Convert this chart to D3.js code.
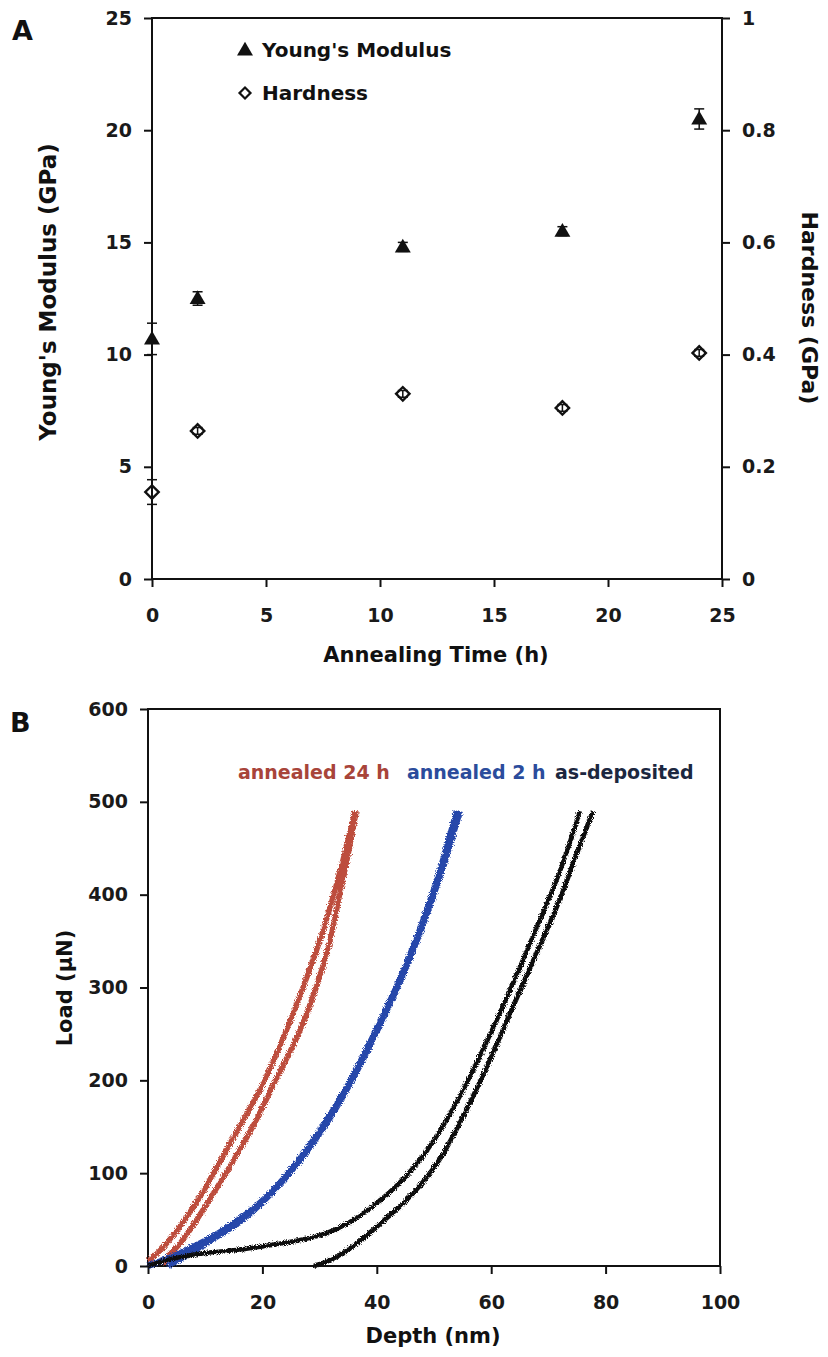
<!DOCTYPE html>
<html>
<head>
<meta charset="utf-8">
<script src="https://cdn.jsdelivr.net/npm/d3@7"></script>
<style>
  body { margin: 0; background: #fff; }
  text { font-family: "DejaVu Sans", "Liberation Sans", sans-serif; font-weight: bold; }
</style>
</head>
<body>
<div id="root"></div>
<script>
// Panel A: annealing time vs. mechanical properties
const hours = [0, 2, 11, 18, 24]
const modulus = [10.7, 12.5, 14.8, 15.5, 20.5]
const modulusErr = [0.7, 0.3, 0.2, 0.2, 0.45]
const hardness = [0.155, 0.264, 0.33, 0.305, 0.403]
const hardnessErr = [0.022, 0.006, 0.006, 0.006, 0.006]

const xTicksA = [0, 5, 10, 15, 20, 25]
const yTicksA = [0, 5, 10, 15, 20, 25]
const hTicksA = [0, 0.2, 0.4, 0.6, 0.8, 1]

// Panel B: load-depth curves, [depth nm, load uN]
const red24Load = [[0, 5], [2, 16], [4, 30], [6, 46], [8, 64], [10, 84], [12, 106], [14, 128], [16, 150], [18, 172], [20, 195], [22, 222], [24, 251], [26, 282], [28, 315], [30, 350], [32, 390], [34, 435], [36.2, 490]]
const red24Unload = [[36.4, 490], [35.2, 450], [33.5, 400], [31.8, 350], [29.4, 300], [26.3, 250], [22.3, 200], [18.3, 150], [14.3, 107], [10.7, 71], [8, 45], [5.7, 25], [3.5, 10], [2.6, 2]]
const blue2Load = [[0, 0], [5, 12], [10, 27], [15, 46], [20, 70], [25, 103], [30, 145], [35, 195], [40, 255], [45, 322], [50, 405], [54, 490]]
const blue2Unload = [[54.5, 490], [51, 420], [46.3, 340], [41.3, 270], [36.3, 208], [31.3, 155], [26.3, 112], [21.3, 77], [16.5, 50], [11.5, 30], [7, 13], [4.5, 4], [3.5, 0]]
const asDepLoad = [[0, 0], [3, 6], [6, 10], [10, 14], [15, 17], [20, 21], [25, 26], [30, 33], [33, 40], [36, 50], [39, 63], [42, 78], [45, 96], [48, 118], [51, 145], [54, 177], [57, 213], [60, 252], [63, 293], [66, 336], [69, 380], [72, 425], [75.5, 490]]
const asDepUnload = [[77.8, 490], [75, 445], [72, 395], [69, 352], [66, 310], [63, 268], [60, 225], [57, 185], [54, 148], [51, 115], [48, 90], [45, 70], [42, 53], [39, 37], [36, 22], [33, 10], [31, 4], [29, 0]]

const xTicksB = [0, 20, 40, 60, 80, 100]
const yTicksB = [0, 100, 200, 300, 400, 500, 600]

const legendB = [
  { label: 'annealed 24 h', color: '#a8443a', x: 238 },
  { label: 'annealed 2 h', color: '#2b4c9c', x: 407 },
  { label: 'as-deposited', color: '#1c2740', x: 555 }
]

const W = 828, H = 1357

const svg = d3.select('#root').append('svg')
  .attr('width', W)
  .attr('height', H)

// jagged look of the measured traces
const defs = svg.append('defs')
const filt = defs.append('filter').attr('id', 'jitter')
  .attr('x', '-5%').attr('y', '-5%').attr('width', '110%').attr('height', '110%')
filt.append('feTurbulence').attr('type', 'fractalNoise')
  .attr('baseFrequency', '1.1').attr('numOctaves', 2).attr('seed', 3).attr('result', 'noise')
filt.append('feDisplacementMap').attr('in', 'SourceGraphic').attr('in2', 'noise')
  .attr('scale', 5).attr('xChannelSelector', 'R').attr('yChannelSelector', 'G')

// ---------- Panel A ----------
const xA = d3.scaleLinear().domain([0, 25]).range([152, 722])
const yA = d3.scaleLinear().domain([0, 25]).range([579, 18])
const yH = d3.scaleLinear().domain([0, 1]).range([579, 18])

function styleAxis(g) {
  g.select('.domain').remove()
  g.selectAll('.tick line').attr('stroke', '#111').attr('stroke-width', 2)
  g.selectAll('.tick text').attr('fill', '#1a1a1a').style('font-size', '19px')
}

svg.append('g')
  .attr('transform', `translate(0,${yA(0)})`)
  .call(d3.axisBottom(xA).tickValues(xTicksA).tickSize(8).tickPadding(22))
  .call(styleAxis)

svg.append('g')
  .attr('transform', `translate(${xA(0)},0)`)
  .call(d3.axisLeft(yA).tickValues(yTicksA).tickSize(8).tickPadding(12))
  .call(styleAxis)

svg.append('g')
  .attr('transform', `translate(${xA(25)},0)`)
  .call(d3.axisRight(yH).tickValues(hTicksA).tickSize(8).tickPadding(12).tickFormat(d3.format('')))
  .call(styleAxis)

svg.append('rect')
  .attr('x', xA(0)).attr('y', yA(25))
  .attr('width', xA(25) - xA(0)).attr('height', yA(0) - yA(25))
  .attr('fill', 'none').attr('stroke', '#111').attr('stroke-width', 2)

// error bars
const ptsA = hours.map((t, i) => ({ t, m: modulus[i], me: modulusErr[i], h: hardness[i], he: hardnessErr[i] }))

function errBar(g, x, y0, y1) {
  g.append('line').attr('x1', x).attr('x2', x).attr('y1', y0).attr('y2', y1)
    .attr('stroke', '#111').attr('stroke-width', 1.5)
  ;[y0, y1].forEach(y => g.append('line').attr('x1', x - 5).attr('x2', x + 5).attr('y1', y).attr('y2', y)
    .attr('stroke', '#111').attr('stroke-width', 1.5))
}

const gA = svg.append('g')
ptsA.forEach(d => {
  errBar(gA, xA(d.t), yA(d.m - d.me), yA(d.m + d.me))
  errBar(gA, xA(d.t), yH(d.h - d.he), yH(d.h + d.he))
})

const tri = d3.symbol(d3.symbolTriangle, 110)
const sq = d3.symbol(d3.symbolSquare, 90)

gA.selectAll('.tri').data(ptsA).enter().append('path')
  .attr('d', tri)
  .attr('transform', d => `translate(${xA(d.t)},${yA(d.m) + 1})`)
  .attr('fill', '#111')

gA.selectAll('.dia').data(ptsA).enter().append('path')
  .attr('d', sq)
  .attr('transform', d => `translate(${xA(d.t)},${yH(d.h)}) rotate(45)`)
  .attr('fill', 'none').attr('stroke', '#111').attr('stroke-width', 2.4)

// legend A
svg.append('path').attr('d', tri).attr('transform', 'translate(245,51)').attr('fill', '#111')
svg.append('text').attr('x', 262).attr('y', 57).style('font-size', '20px').attr('fill', '#111').text("Young's Modulus")
svg.append('path').attr('d', d3.symbol(d3.symbolSquare, 60)).attr('transform', 'translate(245,93) rotate(45)')
  .attr('fill', 'none').attr('stroke', '#111').attr('stroke-width', 2.2)
svg.append('text').attr('x', 262).attr('y', 100).style('font-size', '20px').attr('fill', '#111').text('Hardness')

// titles A
svg.append('text').attr('x', 12).attr('y', 40).style('font-size', '27px').attr('fill', '#111').text('A')
svg.append('text').attr('text-anchor', 'middle').attr('transform', 'translate(56,292) rotate(-90)')
  .style('font-size', '23px').attr('fill', '#111').text("Young's Modulus (GPa)")
svg.append('text').attr('text-anchor', 'middle').attr('transform', 'translate(802,308) rotate(90)')
  .style('font-size', '22px').attr('fill', '#111').text('Hardness (GPa)')
svg.append('text').attr('text-anchor', 'middle').attr('x', 436).attr('y', 662)
  .style('font-size', '21px').attr('fill', '#111').text('Annealing Time (h)')

// ---------- Panel B ----------
const xB = d3.scaleLinear().domain([0, 100]).range([148, 720])
const yB = d3.scaleLinear().domain([0, 600]).range([1266, 709])

svg.append('g')
  .attr('transform', `translate(0,${yB(0)})`)
  .call(d3.axisBottom(xB).tickValues(xTicksB).tickSize(8).tickPadding(22))
  .call(styleAxis)

svg.append('g')
  .attr('transform', `translate(${xB(0)},0)`)
  .call(d3.axisLeft(yB).tickValues(yTicksB).tickSize(8).tickPadding(12))
  .call(styleAxis)

svg.append('rect')
  .attr('x', xB(0)).attr('y', yB(600))
  .attr('width', xB(100) - xB(0)).attr('height', yB(0) - yB(600))
  .attr('fill', 'none').attr('stroke', '#111').attr('stroke-width', 2)

const line = d3.line()
  .x(d => xB(d[0]))
  .y(d => yB(d[1]))
  .curve(d3.curveCatmullRom)

const curves = [
  { data: red24Load, color: '#bd4d3c', w: 5.5 },
  { data: red24Unload, color: '#bd4d3c', w: 5.5 },
  { data: blue2Load, color: '#2546aa', w: 6.5 },
  { data: blue2Unload, color: '#2546aa', w: 6.5 },
  { data: asDepLoad, color: '#111', w: 4.6 },
  { data: asDepUnload, color: '#111', w: 4.8 }
]

const gB = svg.append('g').attr('filter', 'url(#jitter)')
gB.selectAll('path').data(curves).enter().append('path')
  .attr('d', d => line(d.data))
  .attr('fill', 'none')
  .attr('stroke', d => d.color)
  .attr('stroke-width', d => d.w)
  .attr('stroke-linejoin', 'round')

legendB.forEach(l => {
  svg.append('text').attr('x', l.x).attr('y', 779)
    .style('font-size', '19px').attr('fill', l.color).text(l.label)
})

svg.append('text').attr('x', 10).attr('y', 732).style('font-size', '27px').attr('fill', '#111').text('B')
svg.append('text').attr('text-anchor', 'middle').attr('transform', 'translate(72,988) rotate(-90)')
  .style('font-size', '21px').attr('fill', '#111').text('Load (µN)')
svg.append('text').attr('text-anchor', 'middle').attr('x', 433).attr('y', 1343)
  .style('font-size', '21px').attr('fill', '#111').text('Depth (nm)')
</script>
</body>
</html>
